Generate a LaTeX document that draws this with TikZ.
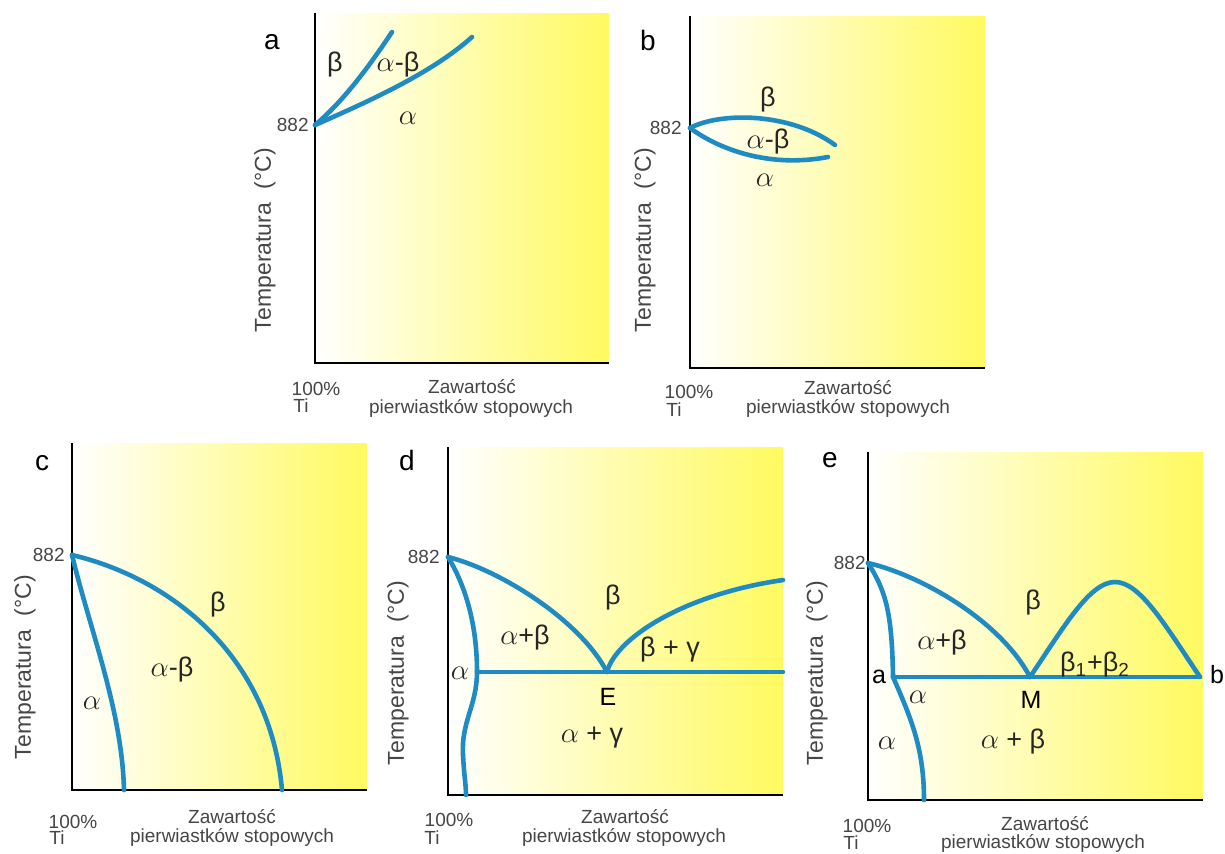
\documentclass[tikz,border=0pt]{standalone}
\usepackage{fontspec}
\setmainfont{Liberation Sans}
\definecolor{lineblue}{RGB}{30,140,195}
\definecolor{tiyellow}{RGB}{255,250,95}
\definecolor{labelgray}{RGB}{70,70,70}
\tikzset{
  axisline/.style={line width=1.4pt, black, line join=miter},
  phaseline/.style={line width=2.3pt, lineblue, line cap=round},
  panelbg/.style={left color=white, right color=tiyellow},
  paneltag/.style={font=\fontsize{14}{16}\selectfont, inner sep=0pt},
  phaselabel/.style={font=\fontsize{13.5}{15}\selectfont, text=black!85, inner sep=0pt},
  pointlabel/.style={font=\fontsize{12.5}{14}\selectfont, inner sep=0pt},
  templabel/.style={font=\fontsize{11.5}{13}\selectfont, text=labelgray, rotate=90, inner sep=0pt},
  ticklabel/.style={font=\fontsize{9.5}{11}\selectfont, text=labelgray, inner sep=0pt, anchor=east},
  axislabel/.style={font=\fontsize{9.5}{11}\selectfont, text=labelgray, inner sep=0pt}
}

\begin{document}
\begin{tikzpicture}[x=0.5pt, y=-0.5pt]
  \useasboundingbox[fill=white] (0,0) rectangle (1225,853);

  % a
  \shade[panelbg] (315,13) rectangle (609,363);
  \draw[axisline] (315,13) -- (315,363) -- (609,363);
  \coordinate (a882) at (315,125);
  \draw[phaseline] (a882) .. controls (345,100) and (372,62) .. (392,32);
  \draw[phaseline] (a882) .. controls (360,105) and (430,75) .. (472,37);
  \node[paneltag] (tagA) at (272,42) {a};
  \node[ticklabel] (tickA) at (309,125) {882};
  \node[phaselabel] (betaA) at (335,65) {β};
  \node[phaselabel] (abA) at (398,65) {$\alpha$-β};
  \node[phaselabel] (alphaA) at (408,118) {$\alpha$};
  \node[templabel] (tempA) at (265,240) {Temperatura\hspace{0.6em}(°C)};
  \node[axislabel] (tiA) at (316,389) {100\%};
  \node[axislabel] (tisA) at (301,406) {Ti};
  \node[axislabel] (zawA) at (472,387) {Zawartość};
  \node[axislabel] (pierA) at (471,408) {pierwiastków stopowych};

  % b
  \shade[panelbg] (690,16) rectangle (985,368);
  \draw[axisline] (690,16) -- (690,368) -- (985,368);
  \coordinate (b882) at (690,128);
  \draw[phaseline] (b882) .. controls (720,112) and (790,112) .. (835,145);
  \draw[phaseline] (b882) .. controls (720,150) and (770,168) .. (828,157);
  \node[paneltag] (tagB) at (648,40) {b};
  \node[ticklabel] (tickB) at (682,128) {882};
  \node[phaselabel] (betaB) at (768,100) {β};
  \node[phaselabel] (abB) at (768,142) {$\alpha$-β};
  \node[phaselabel] (alphaB) at (765,180) {$\alpha$};
  \node[templabel] (tempB) at (645,240) {Temperatura\hspace{0.6em}(°C)};
  \node[axislabel] (tiB) at (689,392) {100\%};
  \node[axislabel] (tisB) at (674,410) {Ti};
  \node[axislabel] (zawB) at (848,388) {Zawartość};
  \node[axislabel] (pierB) at (848,408) {pierwiastków stopowych};

  % c
  \shade[panelbg] (72,443) rectangle (367,790);
  \draw[axisline] (72,443) -- (72,790) -- (367,790);
  \coordinate (c882) at (72,555);
  \draw[phaseline] (c882) .. controls (90,630) and (122,710) .. (124,790);
  \draw[phaseline] (c882) .. controls (170,578) and (270,655) .. (282,790);
  \node[paneltag] (tagC) at (42,463) {c};
  \node[ticklabel] (tickC) at (65,555) {882};
  \node[phaselabel] (betaC) at (218,605) {β};
  \node[phaselabel] (abC) at (172,670) {$\alpha$-β};
  \node[phaselabel] (alphaC) at (92,703) {$\alpha$};
  \node[templabel] (tempC) at (25,667) {Temperatura\hspace{0.6em}(°C)};
  \node[axislabel] (tiC) at (73,822) {100\%};
  \node[axislabel] (tisC) at (57,838) {Ti};
  \node[axislabel] (zawC) at (232,817) {Zawartość};
  \node[axislabel] (pierC) at (232,837) {pierwiastków stopowych};

  % d
  \shade[panelbg] (448,447) rectangle (783,795);
  \draw[axisline] (448,447) -- (448,795) -- (783,795);
  \coordinate (d882) at (448,557);
  \coordinate (dE) at (607,672);
  \coordinate (dA) at (477,672);
  \draw[phaseline] (d882) .. controls (500,570) and (580,620) .. (dE);
  \draw[phaseline] (dE) .. controls (615,640) and (680,595) .. (783,580);
  \draw[phaseline] (dA) -- (783,672);
  \draw[phaseline] (d882) .. controls (468,590) and (477,630) .. (dA)
    .. controls (477,705) and (461,722) .. (463,755)
    .. controls (464,775) and (466,785) .. (466,795);
  \node[paneltag] (tagD) at (407,460) {d};
  \node[ticklabel] (tickD) at (440,557) {882};
  \node[phaselabel] (betaD) at (613,598) {β};
  \node[phaselabel] (abD) at (525,638) {$\alpha$+β};
  \node[phaselabel] (bgD) at (670,650) {β + γ};
  \node[phaselabel] (alphaD) at (460,673) {$\alpha$};
  \node[pointlabel] (eD) at (608,697) {E};
  \node[phaselabel] (agD) at (592,737) {$\alpha$ + γ};
  \node[templabel] (tempD) at (398,673) {Temperatura\hspace{0.6em}(°C)};
  \node[axislabel] (tiD) at (449,820) {100\%};
  \node[axislabel] (tisD) at (432,838) {Ti};
  \node[axislabel] (zawD) at (625,817) {Zawartość};
  \node[axislabel] (pierD) at (624,837) {pierwiastków stopowych};

  % e
  \shade[panelbg] (868,452) rectangle (1203,800);
  \draw[axisline] (868,452) -- (868,800) -- (1203,800);
  \coordinate (e882) at (868,563);
  \coordinate (eM) at (1030,677);
  \coordinate (eA) at (893,677);
  \coordinate (eB) at (1200,677);
  \draw[phaseline] (e882) .. controls (920,575) and (1000,620) .. (eM);
  \draw[phaseline] (eM) .. controls (1065,625) and (1090,582) .. (1115,582)
    .. controls (1140,582) and (1165,625) .. (eB);
  \draw[phaseline] (eA) -- (eB);
  \draw[phaseline] (e882) .. controls (885,590) and (892,610) .. (eA)
    .. controls (912,720) and (924,750) .. (924,800);
  \node[paneltag] (tagE) at (830,460) {e};
  \node[ticklabel] (tickE) at (866,563) {882};
  \node[phaselabel] (betaE) at (1033,603) {β};
  \node[phaselabel] (abE) at (942,643) {$\alpha$+β};
  \node[phaselabel] (bbE) at (1095,665) {β\textsubscript{1}+β\textsubscript{2}};
  \node[phaselabel] (alphaE) at (918,697) {$\alpha$};
  \node[phaselabel] (alphaLowE) at (887,743) {$\alpha$};
  \node[phaselabel] (abLowE) at (1013,742) {$\alpha$ + β};
  \node[pointlabel] (mE) at (1031,700) {M};
  \node[pointlabel] (aE) at (879,677) {a};
  \node[pointlabel] (bE) at (1217,675) {b};
  \node[templabel] (tempE) at (817,673) {Temperatura\hspace{0.6em}(°C)};
  \node[axislabel] (tiE) at (867,826) {100\%};
  \node[axislabel] (tisE) at (851,843) {Ti};
  \node[axislabel] (zawE) at (1045,824) {Zawartość};
  \node[axislabel] (pierE) at (1043,843) {pierwiastków stopowych};
\end{tikzpicture}
\end{document}
